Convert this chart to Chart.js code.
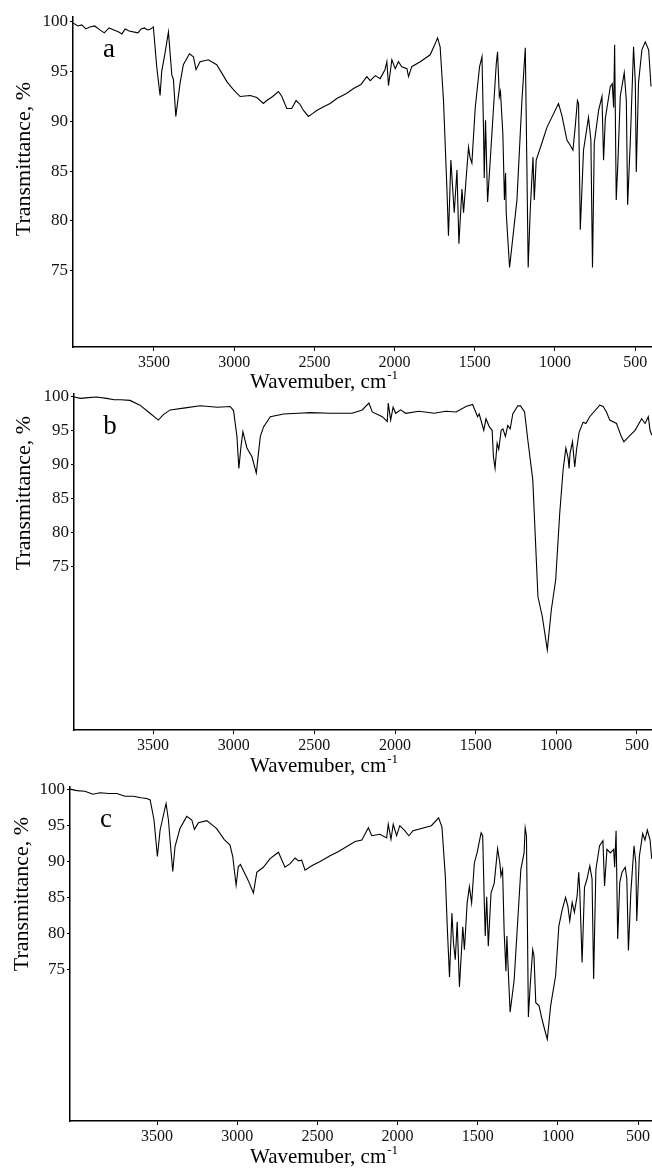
<!DOCTYPE html>
<html>
<head>
<meta charset="utf-8">
<title>IR spectra a, b, c</title>
<script src="https://cdn.jsdelivr.net/npm/chart.js"></script>
<style>
    html, body { margin: 0; padding: 0; background: #fff; }
    body { position: relative; width: 652px; height: 1173px; overflow: hidden; }
    canvas { position: absolute; left: 0; }
</style>
</head>
<body>
<canvas id="chartA" width="652" height="392" style="top:0px"></canvas>
<canvas id="chartB" width="652" height="395" style="top:385px"></canvas>
<canvas id="chartC" width="652" height="395" style="top:778px"></canvas>
<script>
// Tick labels shared by the three panels
const xTicks = [3500, 3000, 2500, 2000, 1500, 1000, 500];
const yTicks = [75, 80, 85, 90, 95, 100];

// Spectrum a
const wavenumberA = [
    4005, 3975, 3950, 3925, 3900, 3870, 3837, 3810, 3780, 3750,
    3720, 3700, 3680, 3655, 3629, 3600, 3580, 3560, 3540, 3520,
    3504, 3483, 3462, 3452, 3430, 3410, 3389, 3379, 3364, 3338,
    3317, 3279, 3254, 3238, 3213, 3161, 3109, 3075, 3046, 3005,
    2963, 2900, 2859, 2818, 2797, 2760, 2724, 2703, 2672, 2641,
    2614, 2589, 2568, 2537, 2510, 2485, 2440, 2402, 2360, 2300,
    2256, 2210, 2173, 2152, 2120, 2090, 2060, 2048, 2038, 2017,
    1996, 1976, 1955, 1923, 1913, 1893, 1840, 1778, 1747, 1732,
    1716, 1695, 1674, 1664, 1649, 1636, 1628, 1611, 1599, 1580,
    1570, 1539, 1530, 1518, 1497, 1470, 1455, 1445, 1441, 1433,
    1420, 1393, 1366, 1358, 1347, 1340, 1325, 1315, 1308, 1304,
    1283, 1237, 1206, 1185, 1175, 1167, 1154, 1137, 1129, 1117,
    1082, 1050, 978, 957, 925, 905, 888, 874, 860, 853,
    842, 822, 791, 776, 766, 755, 728, 707, 697, 686,
    655, 643, 634, 628, 618, 607, 593, 568, 555, 547,
    530, 510, 499, 493, 479, 458, 437, 416, 401
];
const transmittanceA = [
    99.9, 99.6, 99.7, 99.3, 99.5, 99.6, 99.2, 98.9, 99.4, 99.2,
    99.0, 98.8, 99.3, 99.1, 99.0, 98.9, 99.3, 99.4, 99.2, 99.3,
    99.5, 95.5, 92.6, 95.0, 97.0, 99.0, 94.7, 94.2, 90.5, 93.8,
    95.7, 96.8, 96.5, 95.2, 96.0, 96.2, 95.7, 94.8, 94.0, 93.2,
    92.5, 92.6, 92.4, 91.8, 92.1, 92.5, 93.0, 92.5, 91.3, 91.3,
    92.1, 91.7, 91.1, 90.5, 90.8, 91.1, 91.5, 91.8, 92.3, 92.8,
    93.3, 93.7, 94.5, 94.1, 94.6, 94.3, 95.2, 96.0, 93.6, 96.2,
    95.3, 96.0, 95.5, 95.3, 94.5, 95.5, 96.0, 96.7, 97.8, 98.4,
    97.5, 92.1, 83.4, 78.5, 86.1, 82.8, 80.8, 85.1, 77.7, 83.2,
    80.8, 87.4, 86.4, 85.8, 91.4, 95.5, 96.5, 88.8, 84.3, 90.1,
    81.9, 88.8, 95.8, 97.0, 92.5, 93.0, 88.8, 82.1, 84.8, 80.8,
    75.3, 82.1, 92.1, 97.4, 85.4, 75.3, 81.1, 86.4, 82.1, 86.1,
    87.8, 89.4, 91.8, 90.6, 88.1, 87.6, 87.1, 89.4, 92.1, 91.8,
    79.1, 87.1, 90.4, 88.1, 75.3, 87.8, 91.1, 92.5, 86.1, 90.3,
    93.5, 93.8, 91.4, 97.7, 82.1, 86.1, 92.5, 94.9, 92.1, 81.6,
    88.1, 97.5, 93.9, 84.9, 93.9, 97.2, 98.0, 97.2, 93.5
];

// Spectrum b
const wavenumberB = [
    3990, 3950, 3900, 3850, 3788, 3740, 3700, 3643, 3581, 3519,
    3467, 3436, 3394,
    3300, 3208, 3100, 3022, 3001, 2980, 2968, 2955, 2943, 2918,
    2887, 2860, 2835, 2815, 2773, 2691, 2600, 2525, 2401, 2266,
    2203, 2162, 2141, 2079, 2048, 2042, 2027, 2012, 1996, 1965,
    1934, 1851, 1757, 1685, 1622, 1560, 1519, 1488, 1478, 1450,
    1436, 1415, 1398, 1390, 1380, 1367, 1357, 1342, 1331, 1316,
    1301, 1286, 1270, 1239, 1222, 1197, 1177, 1146, 1135, 1114,
    1087, 1056, 1031, 1004, 979, 958, 941, 927, 921, 915,
    900, 886, 875, 859, 834, 817, 793, 731, 710, 689,
    669, 627, 596, 581, 554, 512, 471, 450, 430, 419,
    409
];
const transmittanceB = [
    100.0, 99.8, 99.9, 100.0, 99.8, 99.6, 99.6, 99.5, 98.8, 97.6,
    96.6, 97.4, 98.1,
    98.4, 98.7, 98.5, 98.6, 98.0, 94.2, 89.5, 92.7, 94.9, 92.5,
    91.2, 88.8, 94.2, 95.6, 97.1, 97.5, 97.6, 97.7, 97.6, 97.6,
    98.1, 99.1, 97.8, 97.1, 96.4, 99.1, 96.6, 98.5, 97.6, 98.1,
    97.6, 97.9, 97.6, 97.9, 97.8, 98.6, 98.9, 97.1, 97.5, 95.1,
    96.8, 95.6, 95.1, 91.2, 89.5, 93.2, 92.3, 95.1, 95.3, 94.2,
    95.8, 95.3, 97.5, 98.7, 98.7, 97.8, 93.7, 87.8, 81.9, 70.6,
    67.7, 62.8, 68.7, 73.1, 82.9, 89.3, 92.5, 91.0, 89.5, 91.7,
    93.4, 89.7, 92.2, 94.8, 96.3, 96.1, 97.1, 98.8, 98.6, 97.8,
    96.6, 96.1, 94.1, 93.4, 94.1, 95.1, 96.8, 96.1, 97.1, 95.1,
    94.4
];

// Spectrum c
const wavenumberC = [
    4043, 4000, 3950, 3900, 3856, 3800, 3751, 3700, 3648, 3600,
    3564, 3543, 3519, 3498, 3481,
    3444, 3429, 3419, 3402, 3388, 3357, 3315, 3283, 3267, 3242,
    3190, 3128, 3082, 3045, 3028, 3007, 2993, 2980, 2930, 2899,
    2878, 2837, 2795, 2743, 2702, 2670, 2639, 2618, 2598, 2577,
    2535, 2483, 2421, 2368, 2265, 2223, 2182, 2161, 2110, 2068,
    2058, 2041, 2027, 2006, 1986, 1955, 1930, 1903, 1789, 1744,
    1723, 1702, 1690, 1676, 1661, 1651, 1640, 1628, 1614, 1593,
    1583, 1566, 1552, 1538, 1521, 1504, 1479, 1469, 1459, 1453,
    1444, 1434, 1417, 1397, 1376, 1362, 1355, 1345, 1335, 1324,
    1318, 1310, 1298, 1273, 1231, 1211, 1204, 1196, 1190, 1184,
    1173, 1157, 1149, 1138, 1118, 1101, 1083, 1066, 1045, 1014,
    994, 973, 952, 938, 926, 911, 897, 880, 870, 864,
    849, 834, 818, 801, 787, 777, 763, 740, 719, 709,
    694, 673, 652, 646, 637, 627, 614, 600, 580, 570,
    560, 545, 525, 514, 508, 492, 471, 457, 442, 425,
    415
];
const transmittanceC = [
    100.1, 99.9, 99.8, 99.4, 99.6, 99.5, 99.5, 99.1, 99.1, 98.9,
    98.8, 98.6, 95.8, 90.7, 94.4,
    98.1, 95.8, 93.0, 88.6, 92.1, 94.6, 96.3, 95.8, 94.5, 95.4,
    95.7, 94.6, 93.1, 92.3, 90.7, 86.7, 89.3, 89.6, 87.3, 85.6,
    88.5, 89.2, 90.4, 91.3, 89.2, 89.7, 90.5, 90.1, 90.2, 88.8,
    89.4, 90.0, 90.8, 91.4, 92.8, 93.0, 94.7, 93.6, 93.8, 93.3,
    95.2, 93.1, 95.2, 93.6, 95.0, 94.3, 93.6, 94.3, 95.0, 96.1,
    94.8, 87.9, 80.9, 73.9, 82.8, 78.6, 76.3, 81.6, 72.5, 80.9,
    77.7, 84.2, 86.5, 84.2, 89.8, 91.2, 94.0, 93.6, 84.2, 79.6,
    85.1, 78.2, 85.6, 87.0, 91.8, 89.8, 88.0, 88.9, 80.1, 74.7,
    79.6, 75.0, 69.0, 73.4, 88.9, 91.2, 94.7, 93.6, 81.0, 68.3,
    72.6, 77.7, 76.8, 70.3, 69.9, 68.2, 66.6, 65.2, 69.9, 74.1,
    81.0, 83.3, 85.0, 83.8, 81.7, 84.3, 82.9, 85.2, 88.5, 86.2,
    75.9, 86.4, 87.6, 89.4, 87.6, 73.6, 88.9, 92.2, 92.9, 86.6,
    91.7, 91.2, 91.7, 89.2, 94.3, 79.2, 87.1, 88.5, 89.2, 87.6,
    77.6, 85.7, 92.2, 89.8, 81.7, 90.7, 93.9, 93.0, 94.4, 93.0,
    90.4
];

const serif = '"Liberation Serif", "Times New Roman", serif';

// Panel letter and axis titles drawn by hand so they can sit where the original has them
const panelText = {
    id: 'panelText',
    afterDraw(chart, args, opts) {
        const ctx = chart.ctx;
        const area = chart.chartArea;
        ctx.save();
        ctx.fillStyle = '#000';

        ctx.font = '27px ' + serif;
        ctx.textAlign = 'center';
        ctx.textBaseline = 'middle';
        ctx.fillText(opts.letter, area.left + 36, area.top + 33);

        ctx.font = '21px ' + serif;
        ctx.textAlign = 'left';
        ctx.textBaseline = 'alphabetic';
        const main = 'Wavemuber, cm';
        ctx.fillText(main, 250, opts.xTitleBase);
        const w = ctx.measureText(main).width;
        ctx.font = '13px ' + serif;
        ctx.fillText('-1', 250 + w + 1, opts.xTitleBase - 9);

        ctx.translate(opts.yTitleX, opts.yTitleY);
        ctx.rotate(-Math.PI / 2);
        ctx.font = '22px ' + serif;
        ctx.textAlign = 'center';
        ctx.textBaseline = 'middle';
        ctx.fillText('Transmittance, %', 0, 0);
        ctx.restore();
    }
};

function makePanel(id, wn, tr, p) {
    const points = wn.map((x, i) => ({ x: x, y: tr[i] }));
    return new Chart(document.getElementById(id), {
        type: 'scatter',
        data: {
            datasets: [{
                data: points,
                showLine: true,
                borderColor: '#000',
                borderWidth: 1.1,
                pointRadius: 0,
                tension: 0,
                fill: false
            }]
        },
        options: {
            responsive: false,
            animation: false,
            layout: { padding: { top: p.padTop, left: 0, right: 0, bottom: 0 } },
            plugins: {
                legend: { display: false },
                tooltip: { enabled: false },
                panelText: p.text
            },
            scales: {
                x: {
                    type: 'linear',
                    reverse: true,
                    min: p.xMin,
                    max: p.xMax,
                    afterBuildTicks: s => { s.ticks = xTicks.map(v => ({ value: v })); },
                    afterFit: s => { s.height = p.xHeight; s.paddingLeft = 0; s.paddingRight = 0; },
                    grid: { drawOnChartArea: false, drawTicks: true, tickLength: 4, color: '#000', lineWidth: 1 },
                    border: { display: true, color: '#000', width: 1.5 },
                    ticks: {
                        color: '#111', font: { family: serif, size: 16 }, padding: 2,
                        maxRotation: 0, autoSkip: false,
                        callback: v => String(v)
                    }
                },
                y: {
                    type: 'linear',
                    min: p.yMin,
                    max: p.yMax,
                    afterBuildTicks: s => { s.ticks = yTicks.map(v => ({ value: v })); },
                    afterFit: s => { s.width = p.left; s.paddingTop = 0; s.paddingBottom = 0; },
                    grid: { drawOnChartArea: false, drawTicks: true, tickLength: 3, color: '#000', lineWidth: 1 },
                    border: { display: true, color: '#000', width: 1.5 },
                    ticks: {
                        color: '#111', font: { family: serif, size: 17 }, padding: 2, autoSkip: false,
                        callback: v => String(v)
                    }
                }
            }
        },
        plugins: [panelText]
    });
}

document.addEventListener('DOMContentLoaded', function () {
    makePanel('chartA', wavenumberA, transmittanceA, {
        padTop: 17, left: 73, xHeight: 45,
        xMin: 395, xMax: 4005, yMin: 67.3, yMax: 100.5,
        text: { letter: 'a', xTitleBase: 388, yTitleX: 24, yTitleY: 159 }
    });
    makePanel('chartB', wavenumberB, transmittanceB, {
        padTop: 9, left: 74, xHeight: 50,
        xMin: 407, xMax: 3990, yMin: 51.0, yMax: 100.44,
        text: { letter: 'b', xTitleBase: 387, yTitleX: 24, yTitleY: 108 }
    });
    makePanel('chartC', wavenumberC, transmittanceC, {
        padTop: 9, left: 70, xHeight: 52,
        xMin: 413, xMax: 4043, yMin: 53.8, yMax: 100.4,
        text: { letter: 'c', xTitleBase: 385, yTitleX: 22, yTitleY: 116 }
    });
});
</script>
</body>
</html>
